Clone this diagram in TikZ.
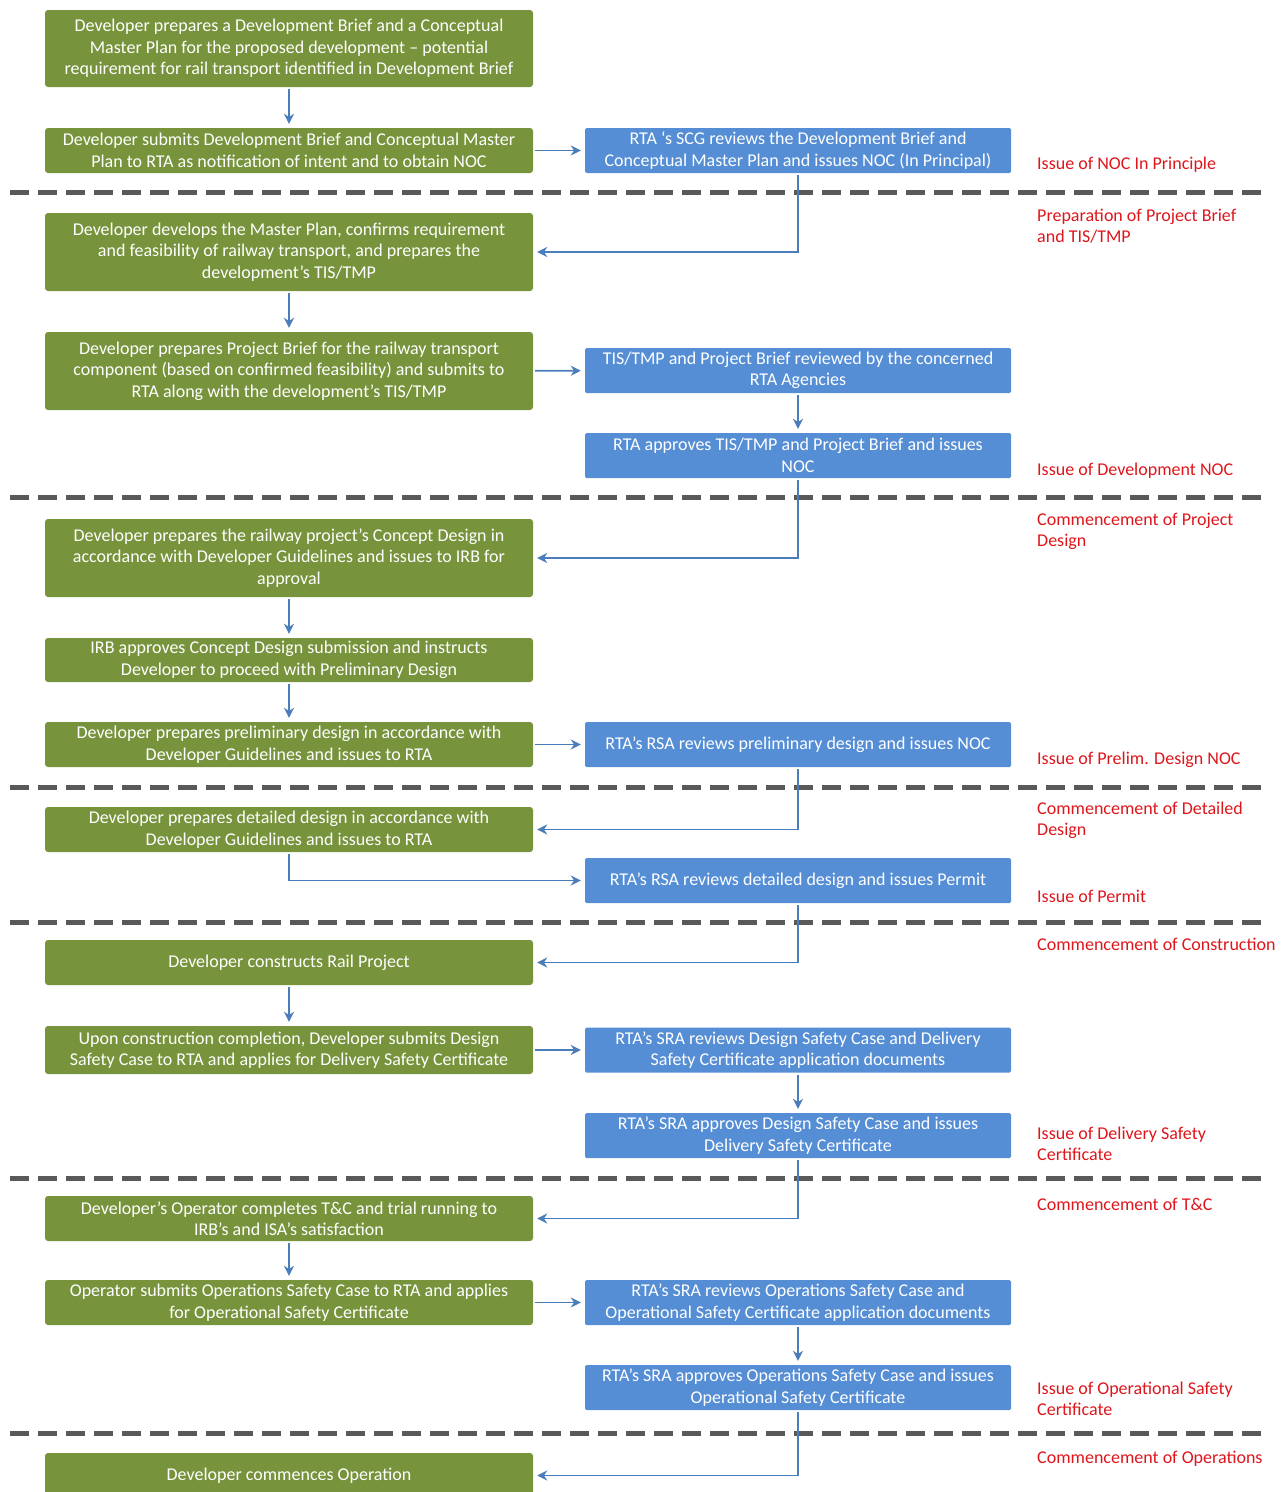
\documentclass[tikz,border=0pt]{standalone}
\usepackage{fontspec}
\setmainfont{Carlito}
\usepackage{tikz}
\usetikzlibrary{arrows.meta}
\definecolor{devgreen}{RGB}{119,147,60}
\definecolor{rtablue}{RGB}{85,142,213}
\definecolor{linkblue}{RGB}{74,126,187}
\definecolor{stagered}{RGB}{222,22,28}
\definecolor{sepgray}{RGB}{89,89,89}

\begin{document}
\begin{tikzpicture}
[x=1pt,y=-1pt
,gn/.style={rectangle,rounded corners=3pt,fill=devgreen,text=white,align=center,minimum width=488pt,minimum height=45pt,inner sep=0pt,font=\fontsize{18}{21.5}\selectfont}
,bn/.style={gn,fill=rtablue,rounded corners=1.5pt,minimum width=426pt}
,note/.style={anchor=west,align=left,text=stagered,inner sep=0pt,font=\fontsize{18}{21}\selectfont}
,be/.style={draw=linkblue,line width=1.8pt,arrows={-Stealth[length=10pt,width=10pt]},shorten >=4pt,shorten <=2pt}
,sep/.style={draw=sepgray,line width=5pt,dash pattern=on 19pt off 9pt}
]
\useasboundingbox (0,0) rectangle (1288,1492);
\foreach \y in {192,497,787,922,1178,1433}
  \draw[sep] (10,\y) -- (1268,\y);
% developer side
\node[gn,minimum height=77pt] (n1) at (289,48.5) {Developer prepares a Development Brief and a Conceptual\\Master Plan for the proposed development – potential\\requirement for rail transport identified in Development Brief};
\node[gn] (n2) at (289,150.5) {Developer submits Development Brief and Conceptual Master\\Plan to RTA as notification of intent and to obtain NOC};
\node[gn,minimum height=78pt] (n3) at (289,252) {Developer develops the Master Plan, confirms requirement\\and feasibility of railway transport, and prepares the\\development’s TIS/TMP};
\node[gn,minimum height=78pt] (n4) at (289,371) {Developer prepares Project Brief for the railway transport\\component (based on confirmed feasibility) and submits to\\RTA along with the development’s TIS/TMP};
\node[gn,minimum height=78pt] (n5) at (289,558) {Developer prepares the railway project’s Concept Design in\\accordance with Developer Guidelines and issues to IRB for\\approval};
\node[gn,minimum height=44pt] (n6) at (289,660) {IRB approves Concept Design submission and instructs\\Developer to proceed with Preliminary Design};
\node[gn] (n7) at (289,744.5) {Developer prepares preliminary design in accordance with\\Developer Guidelines and issues to RTA};
\node[gn] (n8) at (289,829.5) {Developer prepares detailed design in accordance with\\Developer Guidelines and issues to RTA};
\node[gn] (n9) at (289,962.5) {Developer constructs Rail Project};
\node[gn,minimum height=48pt] (n10) at (289,1050) {Upon construction completion, Developer submits Design\\Safety Case to RTA and applies for Delivery Safety Certificate};
\node[gn] (n11) at (289,1218.5) {Developer’s Operator completes T\&C and trial running to\\IRB’s and ISA’s satisfaction};
\node[gn] (n12) at (289,1302.5) {Operator submits Operations Safety Case to RTA and applies\\for Operational Safety Certificate};
\node[gn] (n13) at (289,1475.5) {Developer commences Operation};
% RTA side
\node[bn] (m1) at (798,150.5) {RTA ‘s SCG reviews the Development Brief and\\Conceptual Master Plan and issues NOC (In Principal)};
\node[bn] (m2) at (798,370.5) {TIS/TMP and Project Brief reviewed by the concerned\\RTA Agencies};
\node[bn] (m3) at (798,455.5) {RTA approves TIS/TMP and Project Brief and issues\\NOC};
\node[bn] (m4) at (798,744.5) {RTA’s RSA reviews preliminary design and issues NOC};
\node[bn] (m5) at (798,880.5) {RTA’s RSA reviews detailed design and issues Permit};
\node[bn] (m6) at (798,1050) {RTA’s SRA reviews Design Safety Case and Delivery\\Safety Certificate application documents};
\node[bn] (m7) at (798,1135.5) {RTA’s SRA approves Design Safety Case and issues\\Delivery Safety Certificate};
\node[bn] (m8) at (798,1302.5) {RTA’s SRA reviews Operations Safety Case and\\Operational Safety Certificate application documents};
\node[bn] (m9) at (798,1387.5) {RTA’s SRA approves Operations Safety Case and issues\\Operational Safety Certificate};
% stage notes
\node[note] (s1) at (1037,165) {Issue of NOC In Principle};
\node[note] (s2) at (1037,226) {Preparation of Project Brief\\and TIS/TMP};
\node[note] (s3) at (1037,471) {Issue of Development NOC};
\node[note] (s4) at (1037,531.5) {Commencement of Project\\Design};
\node[note] (s5) at (1037,760) {Issue of Prelim. Design NOC};
\node[note] (s6) at (1037,820.5) {Commencement of Detailed\\Design};
\node[note] (s7) at (1037,896) {Issue of Permit};
\node[note] (s8) at (1037,944) {Commencement of Construction};
\node[note] (s9) at (1037,1143.5) {Issue of Delivery Safety\\Certificate};
\node[note] (s10) at (1037,1204) {Commencement of T\&C};
\node[note] (s11) at (1037,1398.5) {Issue of Operational Safety\\Certificate};
\node[note] (s12) at (1037,1459) {Commencement of Operations};
% flow
\draw[be] (n1) -- (n2);
\draw[be] (n2) -- (m1);
\draw[be] (m1) |- (n3);
\draw[be] (n3) -- (n4);
\draw[be] (n4) -- (m2);
\draw[be] (m2) -- (m3);
\draw[be] (m3) |- (n5);
\draw[be] (n5) -- (n6);
\draw[be] (n6) -- (n7);
\draw[be] (n7) -- (m4);
\draw[be] (m4) |- (n8);
\draw[be] (n8) |- (m5);
\draw[be] (m5) |- (n9);
\draw[be] (n9) -- (n10);
\draw[be] (n10) -- (m6);
\draw[be] (m6) -- (m7);
\draw[be] (m7) |- (n11);
\draw[be] (n11) -- (n12);
\draw[be] (n12) -- (m8);
\draw[be] (m8) -- (m9);
\draw[be] (m9) |- (n13);
\end{tikzpicture}
\end{document}
